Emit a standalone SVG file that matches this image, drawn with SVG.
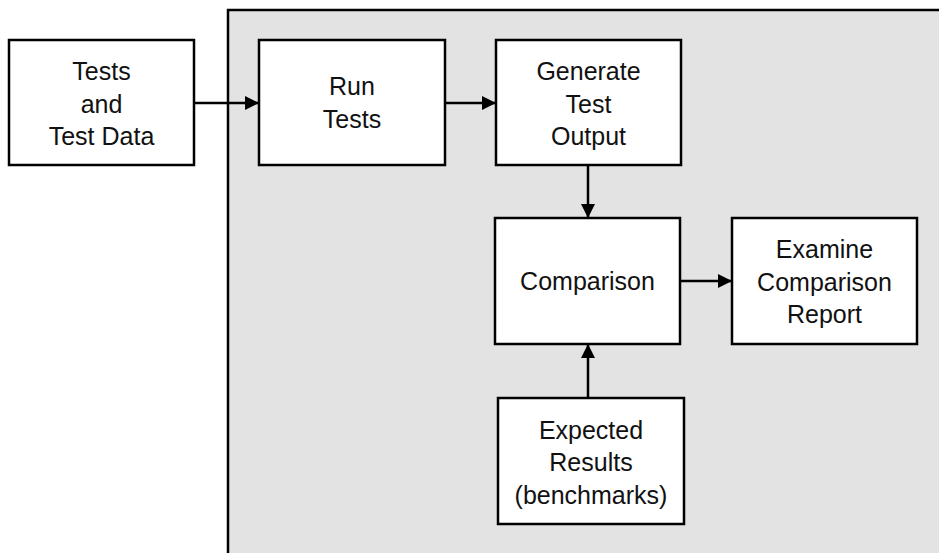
<svg xmlns="http://www.w3.org/2000/svg" width="939" height="553" viewBox="0 0 939 553">
<style>
.box{fill:#fff;stroke:#000;stroke-width:2.5}
.t{font-family:"Liberation Sans",Arial,sans-serif;font-size:25px;text-anchor:middle;fill:#111}
.c{stroke:#000;stroke-width:2.5;fill:none;marker-end:url(#ah)}
</style>
<defs>
<marker id="ah" viewBox="0 0 14 14" refX="14" refY="7" markerWidth="14" markerHeight="14" markerUnits="userSpaceOnUse" orient="auto">
<path d="M0,0 L14,7 L0,14 Z" fill="#000"/>
</marker>
</defs>
<rect x="0" y="0" width="939" height="553" fill="#fff"/>
<g id="boundary"><rect x="228" y="10" width="720" height="560" fill="#e3e3e3" stroke="#000" stroke-width="2.5"/></g>
<g id="connectors">
<line class="c" x1="194" y1="103" x2="259" y2="103"/>
<line class="c" x1="445" y1="103" x2="496" y2="103"/>
<line class="c" x1="588" y1="165" x2="588" y2="218"/>
<line class="c" x1="680" y1="281" x2="732" y2="281"/>
<line class="c" x1="588" y1="398" x2="588" y2="344"/>
</g>
<g id="tests"><rect class="box" x="9" y="40" width="185" height="125"/>
<text class="t" x="101.5" y="80">Tests</text><text class="t" x="101.5" y="112.5">and</text><text class="t" x="101.5" y="145">Test Data</text></g>
<g id="run"><rect class="box" x="259" y="40" width="186" height="125"/>
<text class="t" x="352" y="95">Run</text><text class="t" x="352" y="127.5">Tests</text></g>
<g id="generate"><rect class="box" x="496" y="40" width="185" height="125"/>
<text class="t" x="588.5" y="80">Generate</text><text class="t" x="588.5" y="112.5">Test</text><text class="t" x="588.5" y="145">Output</text></g>
<g id="comparison"><rect class="box" x="495" y="218" width="185" height="126"/>
<text class="t" x="587.5" y="290">Comparison</text></g>
<g id="examine"><rect class="box" x="732" y="218" width="185" height="126"/>
<text class="t" x="824.5" y="258">Examine</text><text class="t" x="824.5" y="290.5">Comparison</text><text class="t" x="824.5" y="322.5">Report</text></g>
<g id="expected"><rect class="box" x="498" y="398" width="186" height="126"/>
<text class="t" x="591" y="438.5">Expected</text><text class="t" x="591" y="471">Results</text><text class="t" x="591" y="503.5">(benchmarks)</text></g>
</svg>
